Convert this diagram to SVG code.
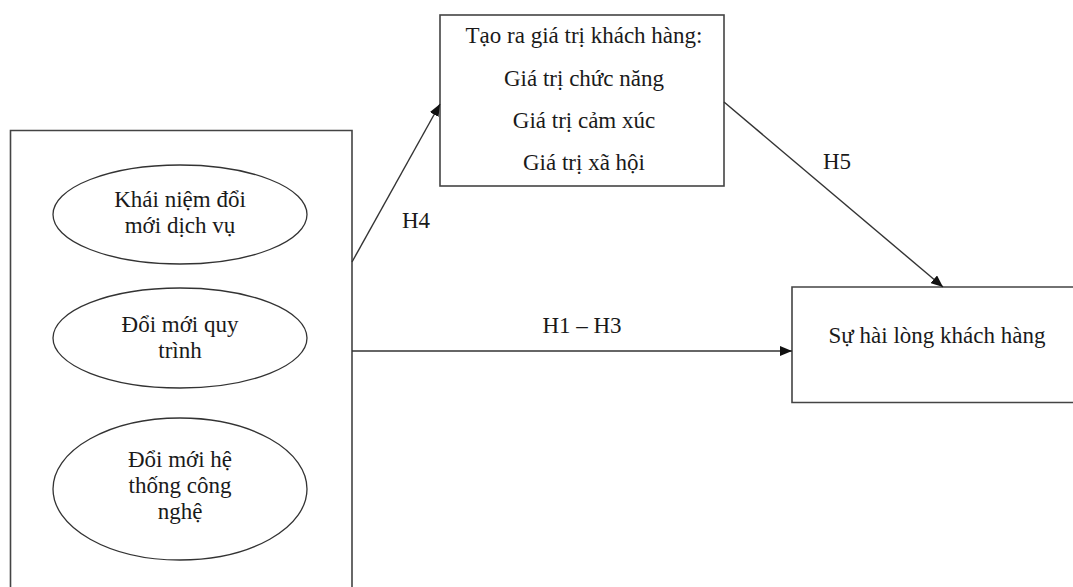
<svg xmlns="http://www.w3.org/2000/svg" width="1073" height="587" viewBox="0 0 1073 587">
  <style>
    .box { fill: #fff; stroke: #444; stroke-width: 1.6; }
    .ell { fill: #fff; stroke: #333; stroke-width: 1.3; }
    .edge { fill: none; stroke: #333; stroke-width: 1.4; }
    text { font-family: "Liberation Serif", "Times New Roman", serif; font-size: 23px; fill: #1a1a1a; text-anchor: middle; }
  </style>
  <defs>
    <marker id="arrow" viewBox="0 0 12 10" refX="12" refY="5" markerWidth="12" markerHeight="10" markerUnits="userSpaceOnUse" orient="auto">
      <path d="M0,0 L12,5 L0,10 Z" fill="#111"/>
    </marker>
  </defs>
  <rect width="1073" height="587" fill="#fff"/>

  <!-- service innovation group (open at the bottom edge) -->
  <g id="innovation-group">
    <path class="box" d="M10.5,590 V130.5 H352 V590"/>
  </g>
  <g id="node-concept">
    <ellipse class="ell" cx="180" cy="214.5" rx="127" ry="49.5"/>
    <text x="180" y="207">Khái niệm đổi</text>
    <text x="180" y="233">mới dịch vụ</text>
  </g>
  <g id="node-process">
    <ellipse class="ell" cx="180" cy="338" rx="127" ry="50"/>
    <text x="180" y="332">Đổi mới quy</text>
    <text x="180" y="358">trình</text>
  </g>
  <g id="node-technology">
    <ellipse class="ell" cx="180" cy="489" rx="127" ry="71"/>
    <text x="180" y="467">Đổi mới hệ</text>
    <text x="180" y="493">thống công</text>
    <text x="180" y="519">nghệ</text>
  </g>

  <!-- customer value creation -->
  <g id="node-value">
    <rect class="box" x="440" y="15" width="284" height="171"/>
    <text x="584" y="43">Tạo ra giá trị khách hàng:</text>
    <text x="584" y="86">Giá trị chức năng</text>
    <text x="584" y="128">Giá trị cảm xúc</text>
    <text x="584" y="170">Giá trị xã hội</text>
  </g>

  <!-- customer satisfaction (extends past the right edge) -->
  <g id="node-satisfaction">
    <path class="box" d="M1080,287 H792 V402.5 H1080"/>
    <text x="937" y="343">Sự hài lòng khách hàng</text>
  </g>

  <!-- connectors -->
  <g id="connectors">
    <line class="edge" x1="352" y1="262" x2="440" y2="104" marker-end="url(#arrow)"/>
    <line class="edge" x1="352" y1="351" x2="792" y2="351" marker-end="url(#arrow)"/>
    <line class="edge" x1="724" y1="102" x2="943" y2="287" marker-end="url(#arrow)"/>
    <text x="416" y="228">H4</text>
    <text x="582" y="333">H1 – H3</text>
    <text x="837" y="169">H5</text>
  </g>
</svg>
